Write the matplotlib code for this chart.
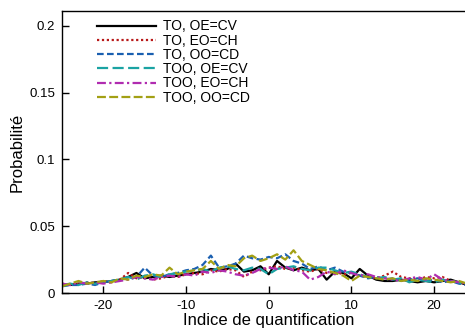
import numpy as np
import matplotlib
matplotlib.use('Agg')
import matplotlib.pyplot as plt

plt.rcParams['font.family'] = ['Liberation Sans', 'DejaVu Sans']
plt.rcParams['axes.unicode_minus'] = False

x = list(range(-25, 25))

to_oe_cv = [0.006, 0.006, 0.007, 0.007, 0.008, 0.008, 0.009, 0.010, 0.012, 0.015,
            0.011, 0.012, 0.013, 0.012, 0.013, 0.014, 0.015, 0.016, 0.018, 0.017,
            0.018, 0.022, 0.016, 0.017, 0.020, 0.014, 0.024, 0.019, 0.017, 0.019,
            0.017, 0.018, 0.010, 0.016, 0.015, 0.011, 0.018, 0.013, 0.010, 0.009,
            0.009, 0.010, 0.009, 0.008, 0.009, 0.008, 0.009, 0.010, 0.008, 0.006]
to_eo_ch = [0.007, 0.006, 0.007, 0.008, 0.007, 0.009, 0.008, 0.010, 0.015, 0.011,
            0.012, 0.010, 0.011, 0.013, 0.012, 0.014, 0.015, 0.014, 0.017, 0.016,
            0.018, 0.017, 0.012, 0.016, 0.017, 0.019, 0.020, 0.018, 0.019, 0.017,
            0.016, 0.018, 0.015, 0.016, 0.014, 0.015, 0.013, 0.012, 0.011, 0.013,
            0.016, 0.012, 0.011, 0.010, 0.012, 0.011, 0.012, 0.009, 0.008, 0.007]
to_oo_cd = [0.005, 0.006, 0.006, 0.007, 0.006, 0.008, 0.009, 0.010, 0.011, 0.012,
            0.019, 0.013, 0.012, 0.014, 0.015, 0.017, 0.018, 0.021, 0.028, 0.019,
            0.020, 0.022, 0.028, 0.026, 0.025, 0.027, 0.026, 0.029, 0.024, 0.022,
            0.018, 0.020, 0.017, 0.019, 0.016, 0.015, 0.013, 0.011, 0.012, 0.010,
            0.011, 0.009, 0.010, 0.011, 0.009, 0.010, 0.008, 0.009, 0.007, 0.006]
too_oe_cv = [0.006, 0.007, 0.006, 0.008, 0.007, 0.008, 0.009, 0.010, 0.012, 0.010,
             0.013, 0.014, 0.012, 0.014, 0.015, 0.016, 0.017, 0.018, 0.016, 0.019,
             0.020, 0.018, 0.017, 0.019, 0.018, 0.014, 0.018, 0.019, 0.020, 0.018,
             0.017, 0.019, 0.019, 0.017, 0.015, 0.016, 0.014, 0.012, 0.011, 0.012,
             0.010, 0.011, 0.008, 0.010, 0.009, 0.008, 0.010, 0.009, 0.008, 0.006]
too_eo_ch = [0.007, 0.006, 0.008, 0.007, 0.008, 0.007, 0.008, 0.009, 0.010, 0.012,
             0.011, 0.010, 0.012, 0.013, 0.012, 0.014, 0.013, 0.016, 0.015, 0.017,
             0.016, 0.014, 0.013, 0.015, 0.018, 0.019, 0.018, 0.020, 0.017, 0.016,
             0.010, 0.012, 0.016, 0.014, 0.017, 0.015, 0.013, 0.014, 0.012, 0.011,
             0.010, 0.009, 0.011, 0.012, 0.010, 0.014, 0.010, 0.009, 0.008, 0.007]
too_oo_cd = [0.005, 0.007, 0.009, 0.007, 0.008, 0.009, 0.008, 0.011, 0.010, 0.013,
             0.012, 0.014, 0.013, 0.019, 0.014, 0.016, 0.017, 0.018, 0.024, 0.018,
             0.021, 0.020, 0.026, 0.028, 0.024, 0.026, 0.029, 0.025, 0.032, 0.024,
             0.021, 0.018, 0.017, 0.015, 0.013, 0.009, 0.013, 0.012, 0.011, 0.010,
             0.011, 0.009, 0.010, 0.009, 0.011, 0.010, 0.009, 0.008, 0.009, 0.007]

labels = ['TO, OE=CV', 'TO, EO=CH', 'TO, OO=CD', 'TOO, OE=CV', 'TOO, EO=CH', 'TOO, OO=CD']
series = [to_oe_cv, to_eo_ch, to_oo_cd, too_oe_cv, too_eo_ch, too_oo_cd]
colors = ['black', '#b81818', '#1a5fb0', '#1aa3a3', '#b02cb0', '#a3a014']
styles = ['-', (0, (1, 1.2)), (0, (3, 1.5)), (0, (5, 2)), (0, (4, 1.5, 1, 1.5)), (0, (4, 1.5))]

fig = plt.figure(figsize=(4.65, 3.34), dpi=100)
ax = fig.add_axes([62/465, 41/334, 413.5/465, 282/334])

for s, lab, c, ls in zip(series, labels, colors, styles):
    ax.plot(x, s, color=c, linestyle=ls, linewidth=1.6, label=lab)

ax.set_xlim(-25, 25)
ax.set_ylim(0, 0.2112)
ax.set_xticks([-20, -10, 0, 10, 20])
ax.set_yticks([0, 0.05, 0.1, 0.15, 0.2])
ax.set_yticklabels(['0', '0.05', '0.1', '0.15', '0.2'])
ax.tick_params(direction='in', length=5, width=1, labelsize=9.5, pad=5)
for sp in ax.spines.values():
    sp.set_linewidth(1)

ax.set_xlabel('Indice de quantification', fontsize=12, labelpad=1)
ax.set_ylabel('Probabilité', fontsize=12, labelpad=3)

ax.legend(loc='upper left', bbox_to_anchor=(29/413.5, 0.99), frameon=False,
          fontsize=10, handlelength=4.3, handletextpad=0.45, labelspacing=0.02,
          borderaxespad=0)

fig.savefig('out.png', dpi=100)
